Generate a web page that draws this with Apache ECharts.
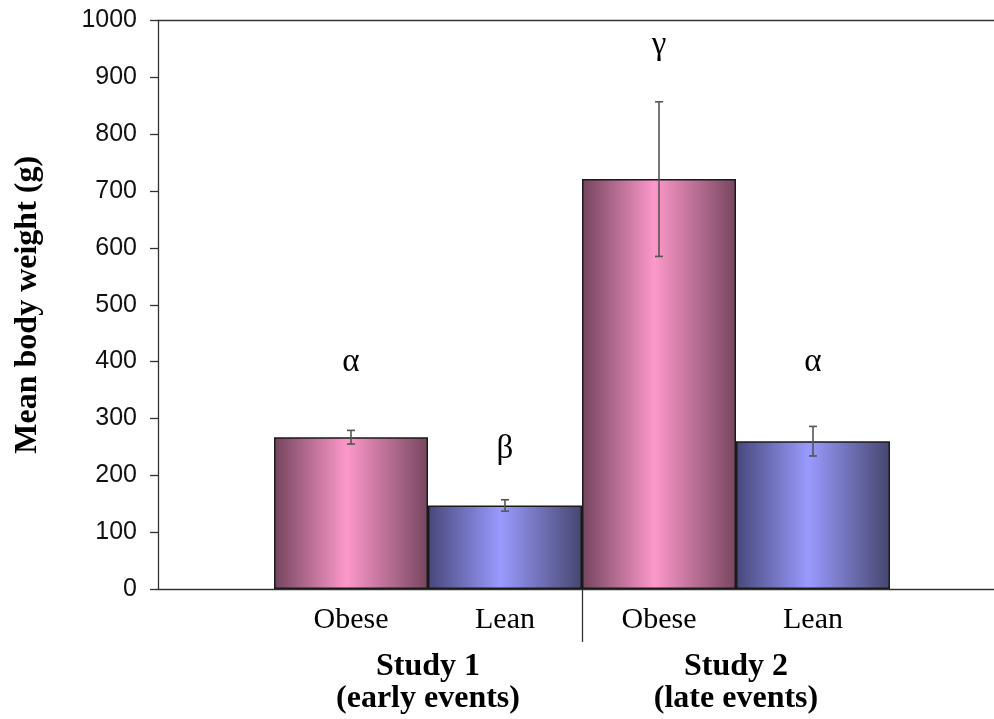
<!DOCTYPE html>
<html>
<head>
<meta charset="utf-8">
<script src="https://cdn.jsdelivr.net/npm/echarts@6/dist/echarts.min.js"></script>
<style>html,body{margin:0;padding:0;background:#fff}#chart{width:994px;height:719px}</style>
</head>
<body>
<div id="chart"></div>
<script>
const categories = ['Obese', 'Lean', 'Obese', 'Lean'];
const studies = ['Study 1\n(early events)', 'Study 2\n(late events)'];
const meanWeight = [267, 147, 721, 260];
const errorHalf = [12, 10, 136, 26];
const sigLetters = ['α', 'β', 'γ', 'α'];
const letterLevel = [398, 245, 957, 398];
const yMin = 0, yMax = 1000, yStep = 100;

const serif = 'Liberation Serif, Times New Roman, serif';
const sans = 'Liberation Sans, Arial, sans-serif';
const axisColor = '#333';

function grad(dark, light, dark2) {
  return new echarts.graphic.LinearGradient(0, 0, 1, 0, [
    { offset: 0, color: dark },
    { offset: 0.47, color: light },
    { offset: 1, color: dark2 }
  ]);
}
const pinkFill = () => grad('#74445e', '#fc98ca', '#77465f');
const blueFill = () => grad('#47477a', '#9a9aff', '#46466f');

const chart = echarts.init(document.getElementById('chart'), null, { renderer: 'canvas' });

const option = {
  backgroundColor: '#fff',
  animation: false,
  grid: [
    { left: 158, right: 0, top: 20.5, bottom: 130 },
    { left: 274, right: 104, top: 20.5, bottom: 130 }
  ],
  xAxis: [
    { gridIndex: 0, type: 'value', min: 0, max: 1, position: 'bottom',
      axisLine: { show: true, onZero: false, lineStyle: { color: axisColor, width: 1.3 } },
      axisTick: { show: false }, axisLabel: { show: false }, splitLine: { show: false } },
    { gridIndex: 0, type: 'value', min: 0, max: 1, position: 'top',
      axisLine: { show: true, onZero: false, lineStyle: { color: axisColor, width: 1.3 } },
      axisTick: { show: false }, axisLabel: { show: false }, splitLine: { show: false } },
    { gridIndex: 1, type: 'category', data: categories, position: 'bottom',
      axisLine: { show: false, onZero: false }, axisTick: { show: false },
      axisLabel: { margin: 16, fontFamily: serif, fontSize: 30, color: '#000' } },
    { gridIndex: 1, type: 'category', data: studies, position: 'bottom',
      axisLine: { show: false, onZero: false }, axisTick: { show: false },
      axisLabel: { margin: 62, fontFamily: serif, fontSize: 32, fontWeight: 'bold', lineHeight: 32, color: '#000' } },
    { gridIndex: 1, type: 'value', min: 0, max: studies.length, position: 'bottom',
      axisLine: { show: false, onZero: false },
      axisTick: { show: true, inside: false, length: 53, customValues: [1], lineStyle: { color: axisColor, width: 1.3 } },
      axisLabel: { show: false }, splitLine: { show: false } }
  ],
  yAxis: [
    { gridIndex: 0, type: 'value', min: yMin, max: yMax, interval: yStep,
      axisLine: { show: true, onZero: false, lineStyle: { color: axisColor, width: 1.3 } },
      axisTick: { show: true, length: 8, lineStyle: { color: axisColor, width: 1.3 } },
      axisLabel: { margin: 21, fontFamily: sans, fontSize: 25, color: '#111', formatter: v => String(v) },
      splitLine: { show: false },
      name: 'Mean body weight (g)', nameLocation: 'middle', nameGap: 114,
      nameTextStyle: { fontFamily: serif, fontSize: 32, fontWeight: 'bold', color: '#000' } },
    { gridIndex: 1, type: 'value', min: yMin, max: yMax, show: false }
  ],
  series: [
    { type: 'bar', xAxisIndex: 2, yAxisIndex: 1, barCategoryGap: '0%', barGap: '0%',
      data: meanWeight.map((v, i) => ({
        value: v,
        itemStyle: { color: categories[i] === 'Obese' ? pinkFill() : blueFill(), borderColor: '#1a1a1a', borderWidth: 1.5 }
      })) },
    { type: 'custom', xAxisIndex: 2, yAxisIndex: 1, z: 5,
      data: meanWeight.map((v, i) => [i, v - errorHalf[i], v + errorHalf[i]]),
      renderItem: function (params, api) {
        const i = api.value(0);
        const lo = api.coord([i, api.value(1)]);
        const hi = api.coord([i, api.value(2)]);
        const c = 4;
        const st = { stroke: '#555', lineWidth: 1.6 };
        return { type: 'group', children: [
          { type: 'line', shape: { x1: lo[0], y1: lo[1], x2: hi[0], y2: hi[1] }, style: st },
          { type: 'line', shape: { x1: lo[0] - c, y1: lo[1], x2: lo[0] + c, y2: lo[1] }, style: st },
          { type: 'line', shape: { x1: hi[0] - c, y1: hi[1], x2: hi[0] + c, y2: hi[1] }, style: st }
        ] };
      } },
    { type: 'custom', xAxisIndex: 2, yAxisIndex: 1, z: 6,
      data: letterLevel.map((v, i) => [i, v]),
      renderItem: function (params, api) {
        const p = api.coord([api.value(0), api.value(1)]);
        return { type: 'text', x: p[0], y: p[1],
          style: { text: sigLetters[params.dataIndex], fontFamily: serif, fontSize: 33, fill: '#000', align: 'center', verticalAlign: 'middle' } };
      } }
  ]
};
chart.setOption(option);
</script>
</body>
</html>
